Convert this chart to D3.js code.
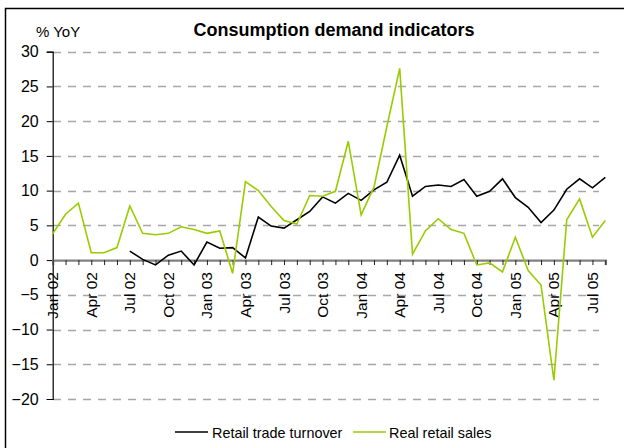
<!DOCTYPE html>
<html>
<head>
<meta charset="utf-8">
<script src="https://cdn.jsdelivr.net/npm/d3@7"></script>
<style>
  html, body { margin: 0; padding: 0; background: #fff; }
  svg { display: block; font-family: "Liberation Sans", Arial, sans-serif; }
</style>
</head>
<body>
<svg id="chart" width="624" height="448"></svg>
<script>
const months = [
  "Jan 02","Feb 02","Mar 02","Apr 02","May 02","Jun 02","Jul 02","Aug 02","Sep 02","Oct 02","Nov 02","Dec 02",
  "Jan 03","Feb 03","Mar 03","Apr 03","May 03","Jun 03","Jul 03","Aug 03","Sep 03","Oct 03","Nov 03","Dec 03",
  "Jan 04","Feb 04","Mar 04","Apr 04","May 04","Jun 04","Jul 04","Aug 04","Sep 04","Oct 04","Nov 04","Dec 04",
  "Jan 05","Feb 05","Mar 05","Apr 05","May 05","Jun 05","Jul 05","Aug 05"
];
const tickLabels = ["Jan 02","Apr 02","Jul 02","Oct 02","Jan 03","Apr 03","Jul 03","Oct 03",
  "Jan 04","Apr 04","Jul 04","Oct 04","Jan 05","Apr 05","Jul 05"];
const retailTradeTurnover = [
  null, null, null, null, null, null, 1.3, 0.1, -0.7, 0.7, 1.3, -0.7,
  2.6, 1.7, 1.8, 0.3, 6.2, 4.9, 4.6, 5.8, 7.0, 9.1, 8.2, 9.6,
  8.6, 10.1, 11.2, 15.1, 9.2, 10.6, 10.8, 10.6, 11.6, 9.2, 9.9, 11.7,
  9.0, 7.6, 5.4, 7.2, 10.2, 11.7, 10.4, 11.9
];
const realRetailSales = [
  3.8, 6.6, 8.2, 1.05, 1.05, 1.8, 7.8, 3.85, 3.65, 3.85, 4.8, 4.4,
  3.85, 4.2, -1.9, 11.3, 10.0, 7.7, 5.7, 5.2, 9.3, 9.2, 9.9, 17.1,
  6.5, 10.5, 19.2, 27.6, 0.86, 4.2, 5.95, 4.4, 3.85, -0.7, -0.4, -1.7,
  3.3, -1.5, -3.6, -17.3, 5.8, 8.8, 3.3, 5.7
];
const yTicks = [-20, -15, -10, -5, 0, 5, 10, 15, 20, 25, 30];
const seriesNames = ["Retail trade turnover", "Real retail sales"];
const seriesColors = ["#000000", "#99cc00"];

const svg = d3.select("#chart");

// outer frame
svg.append("rect")
  .attr("x", 5.5).attr("y", 8.5).attr("width", 640).attr("height", 460)
  .attr("fill", "none").attr("stroke", "#000").attr("stroke-width", 1.5);

const x = d3.scalePoint().domain(months).range([52.7, 605.3]);
const y = d3.scaleLinear().domain([-20, 30]).range([399, 51.7]);

// gridlines
svg.append("g").selectAll("line").data(yTicks.filter(d => d !== 0)).join("line")
  .attr("x1", 53).attr("x2", 599)
  .attr("y1", d => Math.round(y(d)) + 0.5).attr("y2", d => Math.round(y(d)) + 0.5)
  .attr("stroke", "#a6a6a6").attr("stroke-width", 1.3)
  .attr("stroke-dasharray", "8,7");

// y axis
const yAxis = svg.append("g").attr("transform", "translate(52.7,0)")
  .call(d3.axisLeft(y).tickValues(yTicks).tickSize(6).tickPadding(8).tickFormat(d3.format("d")));
yAxis.select(".domain").attr("stroke", "#000").attr("stroke-width", 1.2);
yAxis.selectAll(".tick line").attr("stroke", "#000");
yAxis.selectAll("text").attr("font-size", 16).attr("fill", "#000")
  .attr("font-family", "'Liberation Sans', Arial, sans-serif");

// x axis at zero
const xAxis = svg.append("g").attr("transform", `translate(0,${y(0)})`)
  .call(d3.axisBottom(x).tickSize(5).tickFormat(""));
xAxis.select(".domain").attr("stroke", "#808080").attr("stroke-width", 2.2);
xAxis.selectAll(".tick line").attr("stroke", "#222");

// x tick labels (rotated)
svg.append("g").selectAll("text").data(tickLabels).join("text")
  .attr("transform", d => `translate(${x(d) + 5.5},${y(0) + 12}) rotate(-90)`)
  .attr("text-anchor", "end")
  .attr("font-size", 15.5)
  .attr("fill", "#000")
  .text(d => d);

// lines
const line = d3.line()
  .defined(d => d.v !== null)
  .x(d => x(d.m)).y(d => y(d.v));

const series = [retailTradeTurnover, realRetailSales];
series.forEach((vals, i) => {
  svg.append("path")
    .datum(months.map((m, j) => ({ m, v: vals[j] })))
    .attr("fill", "none")
    .attr("stroke", seriesColors[i])
    .attr("stroke-width", 1.6)
    .attr("stroke-linejoin", "miter")
    .attr("d", line);
});

// title
svg.append("text")
  .attr("x", 334).attr("y", 36)
  .attr("text-anchor", "middle")
  .attr("font-size", 18).attr("font-weight", "bold")
  .text("Consumption demand indicators");

// y unit label
svg.append("text")
  .attr("x", 36).attr("y", 37)
  .attr("font-size", 15)
  .text("% YoY");

// legend
const legendItems = [
  { x1: 175, x2: 208, tx: 212 },
  { x1: 353, x2: 386, tx: 389 }
];
legendItems.forEach((l, i) => {
  svg.append("line")
    .attr("x1", l.x1).attr("x2", l.x2).attr("y1", 432).attr("y2", 432)
    .attr("stroke", seriesColors[i]).attr("stroke-width", 1.6);
  svg.append("text")
    .attr("x", l.tx).attr("y", 437.5)
    .attr("font-size", 14.4)
    .text(seriesNames[i]);
});
</script>
</body>
</html>
